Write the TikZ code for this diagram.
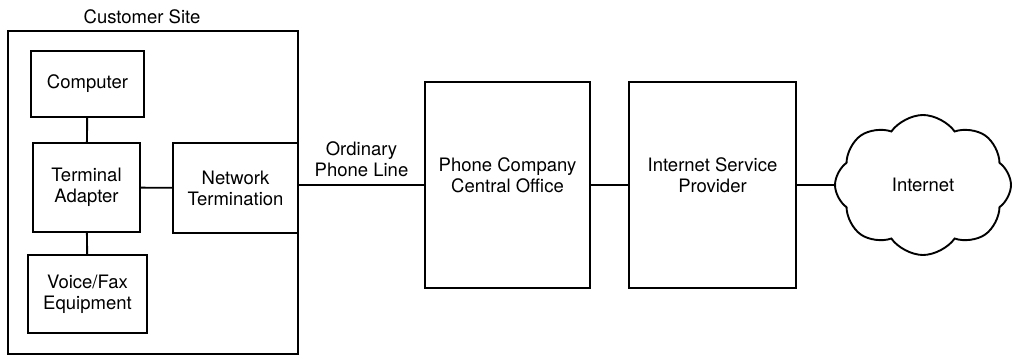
\documentclass[tikz,border=0pt]{standalone}
\usepackage{fontspec}
\setmainfont{TeX Gyre Heros}
\usetikzlibrary{positioning, shapes.symbols}

\begin{document}
\begin{tikzpicture}[
    x=1pt, y=-1pt,
    unitbox/.style={rectangle, draw, line width=1.9pt, align=center, inner sep=0pt},
    wire/.style={line width=1.9pt},
    txt/.style={align=center, inner sep=0pt},
    font=\fontsize{18.5}{21}\selectfont
  ]
  \useasboundingbox (0,0) rectangle (1013,359);

  % customer premises
  \node[unitbox, minimum width=290pt, minimum height=323pt] (site) at (153,192.5) {};
  \node[txt] (sitelabel) at (142,17) {Customer Site};

  \node[unitbox, minimum width=113pt, minimum height=66pt] (pc) at (87.5,84) {Computer};
  \node[unitbox, minimum width=107pt, minimum height=89pt] (ta) at (86.5,187.5) {Terminal\\Adapter};
  \node[unitbox, minimum width=119pt, minimum height=78pt] (fax) at (87.5,294) {Voice/Fax\\Equipment};
  \node[unitbox, minimum width=125pt, minimum height=90pt] (nt) at (235.5,188) {Network\\Termination};

  % carrier side
  \node[unitbox, minimum width=165pt, minimum height=206pt,
        label={[txt, yshift=10pt]center:Phone Company\\Central Office}] (co) at (507.5,185) {};
  \node[unitbox, minimum width=167pt, minimum height=206pt,
        label={[txt, yshift=10pt]center:Internet Service\\Provider}] (isp) at (712.5,185) {};
  \node[cloud, draw, line width=1.9pt, cloud puffs=8, cloud puff arc=110,
        minimum width=176pt, minimum height=140pt, inner sep=0pt] (net) at (923,185) {Internet};

  % links
  \draw[wire] (pc) -- (ta);
  \draw[wire] (ta) -- (fax);
  \draw[wire] (ta) -- (nt);
  \coordinate (lineout) at (co.west -| site.east);
  \draw[wire] (lineout) -- (co.west)
      node[midway, above=7pt, txt] (linelabel) {Ordinary\\Phone Line};
  \draw[wire] (co) -- (isp);
  \draw[wire] (isp) -- (net);
\end{tikzpicture}
\end{document}
